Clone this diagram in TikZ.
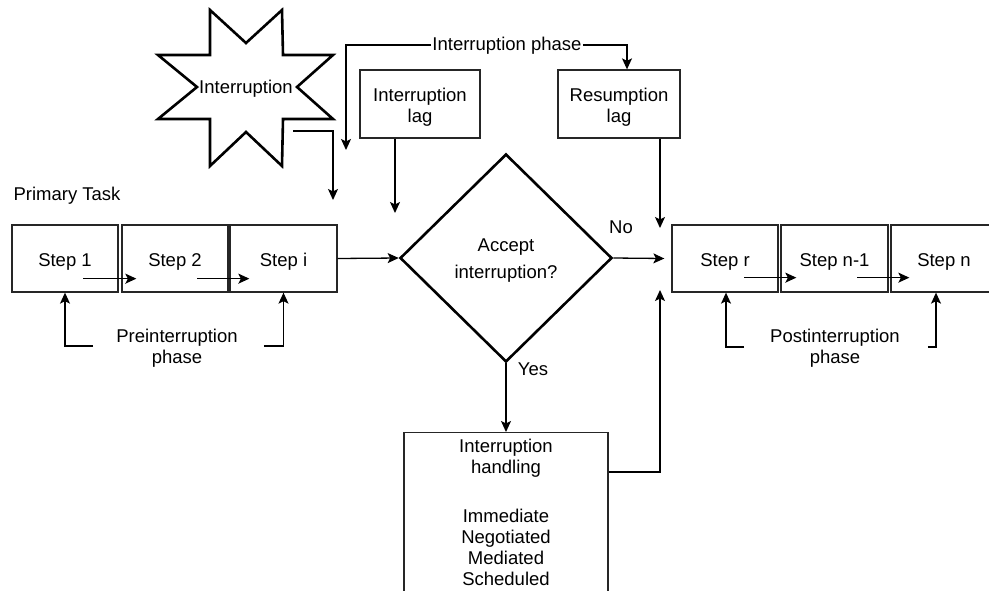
\documentclass[tikz,border=0pt]{standalone}
\usepackage{fontspec}
\setmainfont{Liberation Sans}
\usetikzlibrary{shapes.geometric,arrows.meta,calc}

\tikzset{
  lbl/.style={font=\fontsize{18.5}{21}\selectfont, text=black, align=center, inner sep=2pt},
  framed/.style={draw=black!85, line width=1.3pt, rectangle, inner sep=0pt},
  stepbox/.style={framed, minimum height=67pt},
  lagbox/.style={framed, minimum height=68pt},
  decision/.style={draw=black, line width=2.6pt, diamond, inner sep=0pt,
                   minimum width=212pt, minimum height=208pt, line join=miter},
  arr/.style={line width=1.3pt, -{Stealth[length=11pt,width=10pt,inset=2.5pt]}}
}

\begin{document}
\begin{tikzpicture}[x=1pt,y=-1pt]
\useasboundingbox (0,0) rectangle (989,590);
\clip (0,0) rectangle (989,590);

% the interruption burst
\draw[line width=2.6pt, line join=miter]
  (210,10) -- (246,43) -- (282,10) -- (283,55) -- (333,55) -- (297,87) --
  (333,119) -- (283,119) -- (282,166) -- (246,132) -- (210,166) -- (210,119) --
  (158,119) -- (197,87) -- (158,55) -- (210,55) -- cycle;
\node[lbl] (intr) at (246,89) {Interruption};

% primary task, before the interruption
\node[lbl] (ptask) at (67,196) {Primary Task};
\node[stepbox, minimum width=106pt] (s1) at (65,258.5) {};
\node[stepbox, minimum width=106pt] (s2) at (175,258.5) {};
\node[stepbox, minimum width=107pt] (si) at (283.5,258.5) {};
\node[lbl] (s1t) at ($(s1)+(0,3.5)$) {Step 1};
\node[lbl] (s2t) at ($(s2)+(0,3.5)$) {Step 2};
\node[lbl] (sit) at ($(si)+(0,3.5)$) {Step i};
\node[lbl] (pre) at (177,348) {Preinterruption\\phase};

% lags
\node[lagbox, minimum width=120pt] (ilag) at (420,104) {};
\node[lagbox, minimum width=122pt] (rlag) at (619,104) {};
\node[lbl] (ilagt) at ($(ilag)+(0,3.5)$) {Interruption\\lag};
\node[lbl] (rlagt) at ($(rlag)+(0,3.5)$) {Resumption\\lag};

% decision
\node[decision] (dia) at (506,258) {};
\node[lbl] (diat) at ($(dia)+(0,3)$) {Accept\\[6pt]interruption?};
\node[lbl] (no) at (621,227) {No};
\node[lbl] (yes) at (533,369) {Yes};

% interruption handling
\node[framed, minimum width=204pt, minimum height=200pt, anchor=north] (hand) at (506,432) {};
\node[lbl, anchor=north] (handt) at ($(hand.north)+(0,5)$)
  {Interruption\\handling\\[28pt]Immediate\\Negotiated\\Mediated\\Scheduled};

% primary task, after the interruption
\node[stepbox, minimum width=106pt] (sr) at (725,258.5) {};
\node[stepbox, minimum width=107pt] (sn1) at (834.5,258.5) {};
\node[stepbox, minimum width=106pt] (sn) at (944,258.5) {};
\node[lbl] (srt) at ($(sr)+(0,3.5)$) {Step r};
\node[lbl] (sn1t) at ($(sn1)+(0,3.5)$) {Step n-1};
\node[lbl] (snt) at ($(sn)+(0,3.5)$) {Step n};
\node[lbl] (post) at (835,348) {Postinterruption\\phase};

% interruption phase span
\node[lbl, fill=white, inner sep=1pt] (phase) at (507,46) {Interruption phase};
\coordinate (phL) at (346,150);
\draw[arr] ($(phase.west)+(0,-1)$) -| (phL);
\draw[arr] ($(phase.east)+(0,-1)$) -| ($(rlag.north)+(8,0)$);

% burst into the task
\coordinate (intrOut) at (293,131);
\coordinate (intrIn) at (333,200);
\draw[arr] (intrOut) -| (intrIn);

% lag arrows
\coordinate (ilagIn) at (395,213);
\draw[arr] ($(ilag.south)+(-25,0)$) -- (ilagIn);
\coordinate (rlagIn) at (660,228);
\draw[arr] ($(rlag.south)+(41,0)$) -- (rlagIn);

% flow through the decision
\draw[arr] (si.east) -- (dia.west);
\draw[arr] (dia.east) -- ($(sr.west)+(-7,0)$);
\draw[arr] (dia.south) -- (hand.north);
\coordinate (handIn) at (660,290);
\draw[arr] ($(hand.north east)+(0,40)$) -| (handIn);

% step to step
\draw[arr] ($(s1.south)+(18,-14)$) -- ($(s2.south west)+(15,-14)$);
\draw[arr] ($(s2.south)+(22,-14)$) -- ($(si.south west)+(20,-14)$);
\draw[arr] ($(sr.south)+(19,-15)$) -- ($(sn1.south west)+(16,-15)$);
\draw[arr] ($(sn1.south)+(22.5,-15)$) -- ($(sn.south west)+(19,-15)$);

% phase brackets
\draw[arr] ($(pre.west)+(-21,-2)$) -| (s1.south);
\draw[arr] ($(pre.east)+(24,-2)$) -| (si.south);
\draw[arr] ($(post.west)+(-24,-1)$) -| ($(sr.south)+(1,0)$);
\draw[arr] ($(post.east)+(26,-1)$) -| ($(sn.south)+(-8,0)$);
\end{tikzpicture}
\end{document}
